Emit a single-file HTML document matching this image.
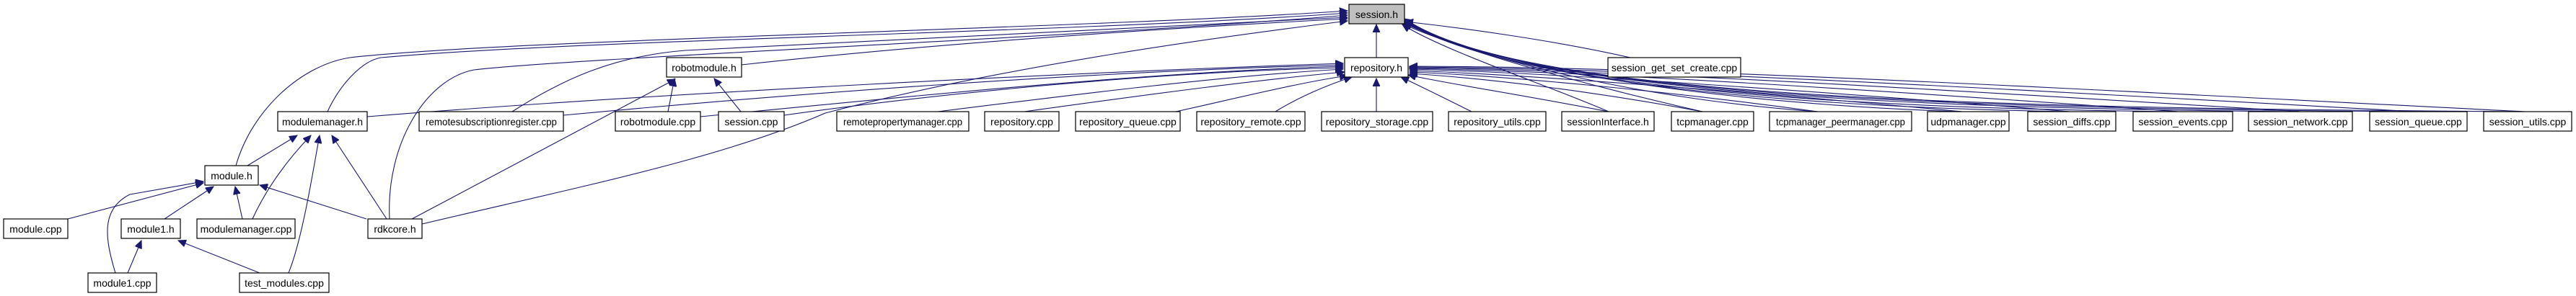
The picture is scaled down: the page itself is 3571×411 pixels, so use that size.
<!DOCTYPE html>
<html><head><meta charset="utf-8"><style>
html,body{margin:0;padding:0;background:#fff;}
svg{display:block;}
text{font-family:"Liberation Sans",sans-serif;font-size:14px;fill:#000;}
.e{fill:none;stroke:#191970;stroke-width:1.1;}
rect{fill:#fff;stroke:#000;stroke-width:1.2;}
</style></head><body>
<svg width="3571" height="411" viewBox="0 0 3571 411" xmlns="http://www.w3.org/2000/svg">
<defs><marker id="a" markerWidth="12" markerHeight="10" refX="11" refY="5" orient="auto" markerUnits="userSpaceOnUse"><path d="M0,0 L11,5 L0,10 Z" fill="#191970" stroke="#191970"/></marker></defs>
<g class="e" marker-end="url(#a)">
<!-- to session.h -->
<path d="M1908,80 L1908,34"/>
<path d="M2260,80 C2150,55 2020,38 1948,30"/>
<path d="M327,230 C350,150 420,90 485,80 C700,55 1500,40 1868,15"/>
<path d="M454,155 C470,120 500,85 528,80 C800,55 1500,45 1868,18"/>
<path d="M540,304 C535,200 590,110 657,97 C800,80 1500,52 1868,21"/>
<path d="M710,155 C780,110 850,78 950,70 C1300,50 1600,35 1868,24"/>
<path d="M1028,90 C1300,60 1600,40 1868,26"/>
<path d="M585,311 C800,260 1000,220 1144,157 C1400,90 1700,50 1868,29"/>
<path d="M2230,155 C2150,120 2000,70 1944,34"/>
<path d="M2360,155 C2250,130 2050,80 1944,33"/>
<path d="M2520,155 C2300,140 2070,90 1946,32"/>
<path d="M2720,155 C2400,145 2080,100 1947,31"/>
<path d="M2870,155 C2450,148 2080,110 1947,30"/>
<path d="M3020,155 C2500,150 2080,115 1947,29"/>
<path d="M3190,155 C2550,150 2090,120 1947,28"/>
<path d="M3350,155 C2600,150 2090,125 1947,27"/>
<path d="M3500,155 C2650,150 2100,130 1947,26"/>
<!-- to repository.h -->
<path d="M509,162 C900,130 1500,100 1862,88"/>
<path d="M781,160 C1100,130 1500,100 1862,90"/>
<path d="M971,162 C1300,130 1600,100 1862,92"/>
<path d="M1087,160 C1300,130 1600,100 1862,94"/>
<path d="M1300,155 C1500,130 1700,105 1862,96"/>
<path d="M1420,155 C1600,130 1750,110 1864,100"/>
<path d="M1630,155 C1720,135 1800,115 1868,105"/>
<path d="M1768,155 C1800,135 1840,118 1874,107"/>
<path d="M1908,155 L1908,109"/>
<path d="M2040,155 C2000,135 1970,120 1942,107"/>
<path d="M2230,155 C2100,130 2000,115 1952,104"/>
<path d="M2360,155 C2200,125 2050,108 1954,102"/>
<path d="M2520,155 C2300,125 2080,105 1954,100"/>
<path d="M2720,155 C2400,125 2100,103 1954,98"/>
<path d="M2870,155 C2500,125 2150,101 1954,96"/>
<path d="M3020,155 C2600,125 2200,99 1954,95"/>
<path d="M3190,155 C2700,125 2250,97 1954,94"/>
<path d="M3350,155 C2800,125 2300,95 1954,93"/>
<path d="M3500,155 C2900,125 2350,93 1954,92"/>
<!-- to robotmodule.h -->
<path d="M926,155 L935,109"/>
<path d="M1027,155 L990,109"/>
<path d="M571,304 L936,110"/>
<!-- to modulemanager.h -->
<path d="M343,230 L412,188"/>
<path d="M350,304 C370,260 400,220 431,188"/>
<path d="M400,379 C420,330 435,230 443,188"/>
<path d="M536,304 L460,188"/>
<!-- to module.h -->
<path d="M94,304 L282,254"/>
<path d="M228,304 L296,259"/>
<path d="M336,304 L326,259"/>
<path d="M508,304 L360,257"/>
<path d="M160,379 C145,330 140,290 180,270 L282,252"/>
<!-- to module1.h -->
<path d="M177,379 L196,334"/>
<path d="M360,379 L247,334"/>
</g>
<g>
<rect x="1870" y="6" width="77" height="27" style="fill:#bfbfbf"/><text x="1908.5" y="25" text-anchor="middle">session.h</text>
<rect x="1864" y="80" width="88" height="27"/><text x="1908" y="99" text-anchor="middle">repository.h</text>
<rect x="2229" y="80" width="184" height="27"/><text x="2321" y="99" text-anchor="middle">session_get_set_create.cpp</text>
<rect x="924" y="80" width="104" height="27"/><text x="976" y="99" text-anchor="middle">robotmodule.h</text>
<rect x="385" y="155" width="124" height="27"/><text x="447" y="174" text-anchor="middle">modulemanager.h</text>
<rect x="581" y="155" width="200" height="27"/><text x="681" y="174" text-anchor="middle" textLength="182" lengthAdjust="spacingAndGlyphs">remotesubscriptionregister.cpp</text>
<rect x="853" y="155" width="118" height="27"/><text x="912" y="174" text-anchor="middle">robotmodule.cpp</text>
<rect x="996" y="155" width="91" height="27"/><text x="1041.5" y="174" text-anchor="middle">session.cpp</text>
<rect x="1160" y="155" width="183" height="27"/><text x="1251.5" y="174" text-anchor="middle" textLength="165" lengthAdjust="spacingAndGlyphs">remotepropertymanager.cpp</text>
<rect x="1365" y="155" width="103" height="27"/><text x="1416.5" y="174" text-anchor="middle">repository.cpp</text>
<rect x="1491" y="155" width="145" height="27"/><text x="1563.5" y="174" text-anchor="middle">repository_queue.cpp</text>
<rect x="1659" y="155" width="150" height="27"/><text x="1734" y="174" text-anchor="middle">repository_remote.cpp</text>
<rect x="1832" y="155" width="154" height="27"/><text x="1909" y="174" text-anchor="middle">repository_storage.cpp</text>
<rect x="2008" y="155" width="135" height="27"/><text x="2075.5" y="174" text-anchor="middle">repository_utils.cpp</text>
<rect x="2165" y="155" width="128" height="27"/><text x="2229" y="174" text-anchor="middle">sessionInterface.h</text>
<rect x="2317" y="155" width="114" height="27"/><text x="2374" y="174" text-anchor="middle">tcpmanager.cpp</text>
<rect x="2453" y="155" width="197" height="27"/><text x="2551.5" y="174" text-anchor="middle" textLength="179" lengthAdjust="spacingAndGlyphs">tcpmanager_peermanager.cpp</text>
<rect x="2672" y="155" width="113" height="27"/><text x="2728.5" y="174" text-anchor="middle">udpmanager.cpp</text>
<rect x="2811" y="155" width="122" height="27"/><text x="2872" y="174" text-anchor="middle">session_diffs.cpp</text>
<rect x="2957" y="155" width="138" height="27"/><text x="3026" y="174" text-anchor="middle">session_events.cpp</text>
<rect x="3117" y="155" width="144" height="27"/><text x="3189" y="174" text-anchor="middle">session_network.cpp</text>
<rect x="3285" y="155" width="135" height="27"/><text x="3352.5" y="174" text-anchor="middle">session_queue.cpp</text>
<rect x="3443" y="155" width="122" height="27"/><text x="3504" y="174" text-anchor="middle">session_utils.cpp</text>
<rect x="284" y="230" width="74" height="27"/><text x="321" y="249" text-anchor="middle">module.h</text>
<rect x="5" y="304" width="89" height="27"/><text x="49.5" y="323" text-anchor="middle">module.cpp</text>
<rect x="168" y="304" width="82" height="27"/><text x="209" y="323" text-anchor="middle">module1.h</text>
<rect x="273" y="304" width="136" height="27"/><text x="341" y="323" text-anchor="middle">modulemanager.cpp</text>
<rect x="510" y="304" width="75" height="27"/><text x="547.5" y="323" text-anchor="middle">rdkcore.h</text>
<rect x="122" y="379" width="95" height="27"/><text x="169.5" y="398" text-anchor="middle">module1.cpp</text>
<rect x="332" y="379" width="124" height="27"/><text x="394" y="398" text-anchor="middle">test_modules.cpp</text>
</g>
</svg>
</body></html>
